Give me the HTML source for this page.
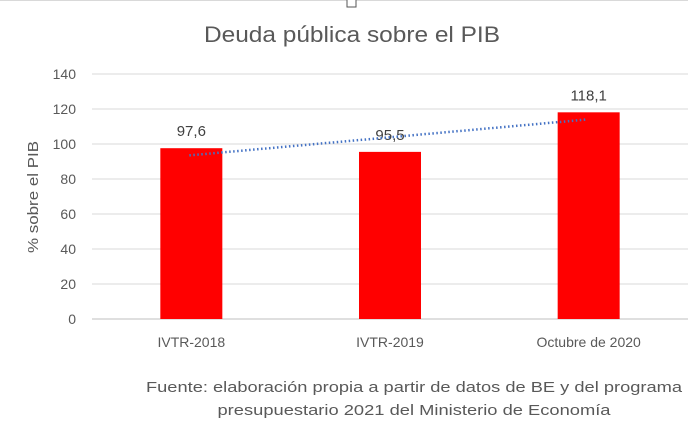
<!DOCTYPE html>
<html><head><meta charset="utf-8"><style>
body{margin:0;background:#fff;width:688px;height:421px;overflow:hidden;font-family:"Liberation Sans",sans-serif}
</style></head><body>
<svg id="chart" width="688" height="421">
<line x1="0" y1="0.5" x2="688" y2="0.5" stroke="#d9d9d9"/>
<rect x="347" y="-1" width="9" height="8" fill="#fff" stroke="#555"/>
<text x="352" y="42" text-anchor="middle" font-size="22" fill="#595959" textLength="296" lengthAdjust="spacingAndGlyphs">Deuda pública sobre el PIB</text>
<text transform="translate(38,197) rotate(-90)" text-anchor="middle" font-size="15" fill="#595959" textLength="112" lengthAdjust="spacingAndGlyphs">% sobre el PIB</text>
<g id="grid"></g><g id="bars"></g><g id="trend"></g>
<text x="414" y="392" text-anchor="middle" font-size="15" fill="#595959" textLength="536" lengthAdjust="spacingAndGlyphs">Fuente: elaboración propia a partir de datos de BE y del programa</text>
<text x="414" y="415" text-anchor="middle" font-size="15" fill="#595959" textLength="393" lengthAdjust="spacingAndGlyphs">presupuestario 2021 del Ministerio de Economía</text>
</svg>
<script>
const categories=["IVTR-2018","IVTR-2019","Octubre de 2020"];
const values=[97.6,95.5,118.1];
const valueLabels=["97,6","95,5","118,1"];
const yTicks=[0,20,40,60,80,100,120,140];
const NS="http://www.w3.org/2000/svg";
const left=92,right=688,y0=319,yTop=74,yMax=140;
const y=v=>y0-(v/yMax)*(y0-yTop);
const bw=(right-left)/categories.length;
const xc=i=>left+bw*(i+0.5);
function mk(t,a,p,txt){const e=document.createElementNS(NS,t);for(const k in a)e.setAttribute(k,a[k]);if(txt!==undefined)e.textContent=txt;p.appendChild(e);return e;}
const grid=document.getElementById('grid'),bars=document.getElementById('bars'),trend=document.getElementById('trend');
yTicks.forEach(t=>{
 const l=mk('line',{x1:left,x2:right,y1:y(t),y2:y(t),stroke:t===0?'#bfbfbf':'#d9d9d9','stroke-width':1},grid);
 
 
 const tx=mk('text',{x:76,y:y(t)+5,'text-anchor':'end','font-size':14,fill:'#595959'},grid,String(t));
 
 
});
categories.forEach((c,i)=>{
 const r=mk('rect',{x:xc(i)-31,y:y(values[i]),width:62,height:y0-y(values[i]),fill:'#ff0000'},bars);
 
 
 const v=mk('text',{x:xc(i),y:y(values[i])-12,'text-anchor':'middle','font-size':15,fill:'#404040'},bars,valueLabels[i]);
 
 
 const cl=mk('text',{x:xc(i),y:347,'text-anchor':'middle','font-size':14,fill:'#595959'},bars,c);
 
 
});
const n=values.length,mx=(n-1)/2,my=values.reduce((a,b)=>a+b,0)/n;
let num=0,den=0;values.forEach((v,i)=>{num+=(i-mx)*(v-my);den+=(i-mx)*(i-mx);});
const slope=num/den,icpt=my-slope*mx;
const tl=mk('line',{x1:xc(0)-2,y1:y(icpt),x2:xc(n-1)-2,y2:y(icpt+slope*(n-1)),stroke:'#4472c4','stroke-width':2.5,'stroke-dasharray':'1.5 2.5'},trend);


</script>
</body></html>
